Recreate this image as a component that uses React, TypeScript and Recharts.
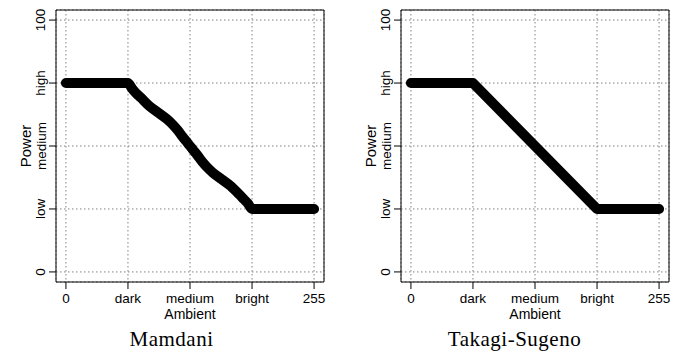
import React from 'react';
import { LineChart, Line, XAxis, YAxis, CartesianGrid, ReferenceArea } from 'recharts';

const xTicks = [0, 63.75, 127.5, 191.25, 255];
const xTickLabels = ['0', 'dark', 'medium', 'bright', '255'];
const yTicks = [0, 25, 50, 75, 100];
const yTickLabels = ['0', 'low', 'medium', 'high', '100'];

const mamdaniAmbient = [0, 63.75, 68, 72, 77, 86, 95, 104, 110, 115, 120, 124, 127.5, 131, 135, 140, 145, 151, 160, 169, 178, 183, 187, 191.25, 255];
const mamdaniPower = [75, 75, 72.8, 71, 69.2, 65.8, 63.2, 60.6, 58.4, 56.2, 53.6, 51.7, 50, 48.3, 46.4, 43.8, 41.6, 39.4, 36.8, 34.2, 30.8, 28.8, 27.2, 25, 25];

const tsAmbient = [0, 63.75, 191.25, 255];
const tsPower = [75, 75, 25, 25];

const titles = ['Mamdani', 'Takagi-Sugeno'];

const X_DOMAIN: [number, number] = [-10.2, 265.2];
const Y_DOMAIN: [number, number] = [-4, 104];
const SANS = '"Liberation Sans", Arial, sans-serif';
const SERIF = '"Liberation Serif", "Times New Roman", serif';

const toRows = (xs: number[], ys: number[]) => xs.map((x, i) => ({ x, y: ys[i] }));

const YTick = (props: any) => {
  const { x, y, payload } = props;
  const idx = yTicks.indexOf(payload.value);
  const bx = x - 1.5;
  return (
    <text x={bx} y={y} transform={`rotate(-90 ${bx} ${y})`} textAnchor="middle" fill="#000" fontSize={13.5} fontFamily={SANS}>
      {idx >= 0 ? yTickLabels[idx] : payload.value}
    </text>
  );
};

const Panel = ({ data, left, title, titleCenter, curve }: { data: { x: number; y: number }[]; left: number; title: string; titleCenter: number; curve: 'monotone' | 'linear' }) => (
  <>
    <div style={{ position: 'absolute', left, top: 0 }}>
      <LineChart width={343} height={354} data={data} margin={{ top: 10, right: 19, bottom: 0, left: 0 }}>
        <CartesianGrid stroke="#808080" strokeDasharray="1.5 2.5" strokeWidth={1} />
        <XAxis
          type="number"
          dataKey="x"
          domain={X_DOMAIN}
          ticks={xTicks}
          interval={0}
          allowDataOverflow
          height={72}
          tickSize={7}
          tickMargin={4.5}
          axisLine={false}
          tickLine={{ stroke: '#000' }}
          tick={{ fill: '#000', fontSize: 13.5, fontFamily: SANS }}
          tickFormatter={(v: number) => {
            const i = xTicks.indexOf(v);
            return i >= 0 ? xTickLabels[i] : String(v);
          }}
          label={(p: any) => {
            const vb = p.viewBox || { x: 56, y: 282, width: 268 };
            return (
              <text x={vb.x + vb.width / 2} y={vb.y + 36.5} textAnchor="middle" fill="#000" fontSize={14} fontFamily={SANS}>
                Ambient
              </text>
            );
          }}
        />
        <YAxis
          type="number"
          dataKey="y"
          domain={Y_DOMAIN}
          ticks={yTicks}
          interval={0}
          allowDataOverflow
          width={56}
          tickSize={7}
          axisLine={false}
          tickLine={{ stroke: '#000' }}
          tick={<YTick />}
          label={(p: any) => {
            const vb = p.viewBox || { x: 0, y: 10, width: 56, height: 272 };
            const cx = vb.x + 31;
            const cy = vb.y + vb.height / 2;
            return (
              <text x={cx} y={cy} transform={`rotate(-90 ${cx} ${cy})`} textAnchor="middle" fill="#000" fontSize={15} fontFamily={SANS}>
                Power
              </text>
            );
          }}
        />
        <Line
          type={curve}
          dataKey="y"
          stroke="#000"
          strokeWidth={10}
          strokeLinecap="round"
          strokeLinejoin="round"
          dot={false}
          activeDot={false}
          isAnimationActive={false}
        />
        <ReferenceArea x1={X_DOMAIN[0]} x2={X_DOMAIN[1]} y1={Y_DOMAIN[0]} y2={Y_DOMAIN[1]} fill="none" fillOpacity={0} stroke="#000" strokeWidth={1} ifOverflow="visible" />
      </LineChart>
    </div>
    <div
      style={{
        position: 'absolute',
        left: titleCenter - 120,
        width: 240,
        top: 328.5,
        textAlign: 'center',
        fontFamily: SERIF,
        fontSize: 21,
        lineHeight: '21px',
        letterSpacing: 0.5,
        color: '#000',
        whiteSpace: 'nowrap',
      }}
    >
      {title}
    </div>
  </>
);

export default function App() {
  return (
    <div style={{ position: 'absolute', left: 0, top: 0, width: 686, height: 354, background: '#fff', overflow: 'hidden' }}>
      <Panel data={toRows(mamdaniAmbient, mamdaniPower)} left={0} title={titles[0]} titleCenter={171.5} curve="monotone" />
      <Panel data={toRows(tsAmbient, tsPower)} left={345} title={titles[1]} titleCenter={514.5} curve="linear" />
    </div>
  );
}
